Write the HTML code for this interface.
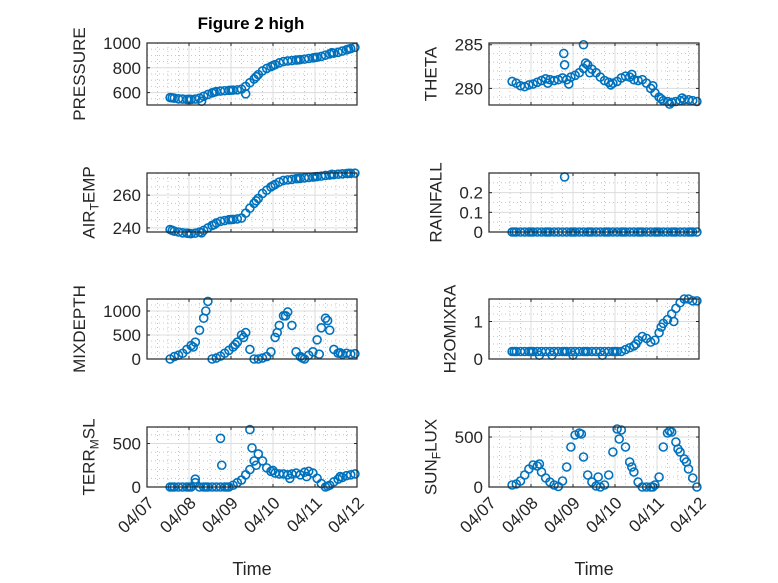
<!DOCTYPE html>
<html><head><meta charset="utf-8"><style>
html,body{margin:0;padding:0;background:#fff;}
svg{display:block;font-family:"Liberation Sans",sans-serif;}
</style></head><body>
<svg id="fig" width="778" height="583" viewBox="0 0 778 583" xmlns="http://www.w3.org/2000/svg">
<rect width="778" height="583" fill="#fff"/>
<text x="251" y="29" text-anchor="middle" font-size="17" font-weight="bold" fill="#000">Figure 2 high</text>
</svg>
<script>
const times=[0.55,0.65,0.75,0.85,0.95,1.05,1.15,1.25,1.35,1.45,1.55,1.65,1.75,1.85,1.95,2.05,2.15,2.25,2.35,2.45,2.55,2.65,2.75,2.85,2.95,3.05,3.15,3.25,3.35,3.45,3.55,3.65,3.75,3.85,3.95,4.05,4.15,4.25,4.35,4.45,4.55,4.65,4.75,4.85,4.95];
const dateTicks=["04/07","04/08","04/09","04/10","04/11","04/12"];
const pressure=[560,555,550,548,545,545,548,555,570,585,598,608,612,615,618,620,622,628,650,680,710,745,775,795,810,825,840,850,855,858,862,866,870,875,880,885,892,902,912,918,925,935,945,955,965];
const pressureExtraT=[1.3,2.35,0.6,1.0,1.6,2.0,2.6,3.0,3.6,4.0,4.4,4.8];
const pressureExtraV=[530,590,558,546,603,619,728,818,864,883,922,950];
const airTemp=[239,238,237.5,237,236.8,236.5,236.8,237.5,238.5,240,241.5,243,244,244.5,245,245.2,245.5,246,249,252,255,258,261,263,265,266.5,268,269,269.3,269.6,270,270.2,270.5,270.8,271,271.3,271.6,272,272.2,272.5,272.8,273,273.2,273.3,273.4];
const airTempExtraT=[1.3,0.6,1.0,1.6,2.0,2.6,3.0,3.6,4.0,4.4,4.8];
const airTempExtraV=[237,238.5,236.6,242,245.1,256.5,265.8,270.1,271.2,272.7,273.3];
const theta=[280.8,280.6,280.3,280.2,280.4,280.5,280.7,280.9,281.1,281.0,280.9,281.0,281.2,281.0,281.3,281.5,281.8,282.3,282.7,282.2,281.8,281.3,280.9,280.7,280.6,280.8,281.2,281.4,281.3,281.0,280.9,281.0,280.6,280.0,279.5,279.0,278.6,278.5,278.4,278.5,278.6,278.7,278.7,278.6,278.5];
const thetaExtraT=[1.78,1.8,2.25,2.3,1.4,1.9,2.4,2.9,3.4,3.9,4.1,4.3,4.6];
const thetaExtraV=[284,282.7,285,282.9,280.6,280.5,281.8,280.4,281.6,280.3,278.8,278.2,278.9];
const rainfall=[0,0,0,0,0,0,0,0,0,0,0,0,0,0,0,0,0,0,0,0,0,0,0,0,0,0,0,0,0,0,0,0,0,0,0,0,0,0,0,0,0,0,0,0,0];
const rainfallExtraT=[1.8,0.6,1.0,1.4,2.0,2.4,2.8,3.2,3.6,4.0,4.4,4.8];
const rainfallExtraV=[0.28,0,0,0,0,0,0,0,0,0,0,0];
const mixDepth=[0,50,80,120,200,280,350,600,850,1200,0,20,60,120,180,250,350,500,550,200,0,0,20,50,150,450,700,900,980,700,150,50,0,80,150,400,650,850,600,200,120,100,120,100,110];
const mixDepthExtraT=[1.4,2.3,3.3,4.3,4.1,1.1,2.1,3.1,3.7,4.6];
const mixDepthExtraV=[1000,450,900,800,100,250,300,550,20,130];
const h2o=[0.2,0.2,0.2,0.2,0.2,0.2,0.2,0.2,0.2,0.2,0.2,0.2,0.2,0.2,0.2,0.2,0.2,0.2,0.2,0.2,0.2,0.2,0.2,0.2,0.2,0.2,0.2,0.25,0.3,0.35,0.5,0.6,0.55,0.45,0.5,0.7,0.95,1.05,1.2,1.35,1.5,1.6,1.6,1.55,1.55];
const h2oExtraT=[1.2,1.5,2.0,2.7,0.6,1.0,1.8,2.3,3.0,3.5,4.1,4.4];
const h2oExtraV=[0.1,0.1,0.1,0.1,0.2,0.2,0.2,0.2,0.2,0.4,0.85,1.0];
const terrMsl=[0,0,0,0,0,0,50,0,0,0,0,0,0,0,0,20,50,80,140,200,300,380,300,220,180,160,150,150,140,150,160,140,170,180,160,100,40,0,20,60,90,110,130,140,150];
const terrMslExtraT=[1.15,1.75,1.78,2.45,2.5,0.6,1.0,1.4,1.9,2.6,3.0,3.4,3.8,4.3,4.6];
const terrMslExtraV=[90,560,250,660,450,0,0,0,0,250,190,100,120,10,120];
const sunFlux=[20,30,60,120,180,220,210,150,90,50,20,5,60,200,400,520,540,300,120,50,10,0,20,120,350,580,570,400,250,150,50,0,0,0,20,100,400,540,550,450,350,280,180,90,0];
const sunFluxExtraT=[1.2,2.2,2.6,3.1,3.4,3.9,4.3,4.5,4.7];
const sunFluxExtraV=[230,530,100,480,200,0,560,380,250];

const NS="http://www.w3.org/2000/svg";
const svg=document.getElementById('fig');
function mk(tag,attrs,parent){const e=document.createElementNS(NS,tag);for(const k in attrs)e.setAttribute(k,attrs[k]);(parent||svg).appendChild(e);return e;}

const L0=147,L1=489,W=210;
const rows=[[43,105],[173,232],[299,359],[427,487]];
const panels=[
 {name:'pressure',col:0,row:0,vals:pressure,et:pressureExtraT,ev:pressureExtraV,ylim:[500,1000],ticks:[600,800,1000],minor:50,label:[['PRESSURE']]},
 {name:'theta',col:1,row:0,vals:theta,et:thetaExtraT,ev:thetaExtraV,ylim:[278.1,285.2],ticks:[280,285],minor:1,label:[['THETA']]},
 {name:'air-temp',col:0,row:1,vals:airTemp,et:airTempExtraT,ev:airTempExtraV,ylim:[237.5,273.5],ticks:[240,260],minor:5,label:[['AIR'],['T','sub'],['EMP']]},
 {name:'rainfall',col:1,row:1,vals:rainfall,et:rainfallExtraT,ev:rainfallExtraV,ylim:[0,0.3],ticks:[0,0.1,0.2],minor:0.05,label:[['RAINFALL']]},
 {name:'mixdepth',col:0,row:2,vals:mixDepth,et:mixDepthExtraT,ev:mixDepthExtraV,ylim:[0,1250],ticks:[0,500,1000],minor:125,label:[['MIXDEPTH']]},
 {name:'h2omixra',col:1,row:2,vals:h2o,et:h2oExtraT,ev:h2oExtraV,ylim:[0,1.6],ticks:[0,1],minor:0.2,label:[['H2OMIXRA']]},
 {name:'terr-msl',col:0,row:3,vals:terrMsl,et:terrMslExtraT,ev:terrMslExtraV,ylim:[0,690],ticks:[0,500],minor:100,label:[['TERR'],['M','sub'],['SL']]},
 {name:'sun-flux',col:1,row:3,vals:sunFlux,et:sunFluxExtraT,ev:sunFluxExtraV,ylim:[0,600],ticks:[0,500],minor:100,label:[['SUN'],['F','sub'],['LUX']]}
];

panels.forEach(p=>{
 const x0=p.col?L1:L0, x1=x0+W, yT=rows[p.row][0], yB=rows[p.row][1];
 const xs=t=>x0+t/5*W;
 const ys=v=>yB-(v-p.ylim[0])/(p.ylim[1]-p.ylim[0])*(yB-yT);
 const g=mk('g',{});
 
 
 for(let d=0.25;d<5;d+=0.25){if(Math.abs(d-Math.round(d))<1e-6)continue;mk('line',{x1:xs(d),x2:xs(d),y1:yT,y2:yB,stroke:'#b8b8b8','stroke-width':0.8,'stroke-dasharray':'1 3'},g);}
 const m0=Math.ceil(p.ylim[0]/p.minor)*p.minor;
 for(let v=m0;v<p.ylim[1]-1e-9;v+=p.minor){if(p.ticks.some(t=>Math.abs(t-v)<1e-6))continue;const y=ys(v);if(y<=yT+0.5||y>=yB-0.5)continue;mk('line',{x1:x0,x2:x1,y1:y,y2:y,stroke:'#b8b8b8','stroke-width':0.8,'stroke-dasharray':'1 3'},g);}
 for(let d=1;d<5;d++)mk('line',{x1:xs(d),x2:xs(d),y1:yT,y2:yB,stroke:'#dcdcdc','stroke-width':1},g);
 p.ticks.forEach(v=>{const y=ys(v);if(y>yT+1&&y<yB-1)mk('line',{x1:x0,x2:x1,y1:y,y2:y,stroke:'#dcdcdc','stroke-width':1},g);});
 const pts=mk('g',{fill:'none',stroke:'#0072BD','stroke-width':1.6},g);
 
 
 const allT=times.concat(p.et), allV=p.vals.concat(p.ev);
 allT.forEach((t,i)=>{const c=mk('circle',{cx:xs(t),cy:ys(allV[i]),r:4},pts);
  
  });
 mk('rect',{x:x0,y:yT,width:W,height:yB-yT,fill:'none',stroke:'#262626','stroke-width':1.2},g);
 for(let d=0;d<=5;d++){mk('line',{x1:xs(d),x2:xs(d),y1:yB,y2:yB-3,stroke:'#262626'},g);mk('line',{x1:xs(d),x2:xs(d),y1:yT,y2:yT+3,stroke:'#262626'},g);}
 let maxW=0;
 p.ticks.forEach(v=>{const y=ys(v);mk('line',{x1:x0,x2:x0+3,y1:y,y2:y,stroke:'#262626'},g);mk('line',{x1:x1,x2:x1-3,y1:y,y2:y,stroke:'#262626'},g);
  const tx=mk('text',{x:x0-6,y:y+6,'text-anchor':'end','font-size':17,fill:'#262626'},g);tx.textContent=String(v);
  
  
  maxW=Math.max(maxW,tx.getComputedTextLength());});
 const lx=x0-maxW-24, ly=(yT+yB)/2;
 const lab=mk('text',{x:lx,y:ly,'text-anchor':'middle','font-size':17,fill:'#262626',transform:`rotate(-90 ${lx} ${ly})`},g);
 
 
 p.label.forEach(s=>{const ts=mk('tspan',{},lab);ts.textContent=s[0];if(s[1]==='sub'){ts.setAttribute('baseline-shift','-35%');ts.setAttribute('font-size','12');}});
 if(p.row===3){
  dateTicks.forEach((s,d)=>{const tx0=xs(d)+8, ty0=yB+17;
   const tx=mk('text',{x:tx0,y:ty0,'text-anchor':'end','font-size':17,fill:'#262626',transform:`rotate(-45 ${tx0} ${ty0})`},g);
   tx.textContent=s;
   
   });
  const xl=mk('text',{x:x0+W/2,y:575,'text-anchor':'middle','font-size':18,fill:'#262626'},g);
  xl.textContent='Time';
  
  
 }
});
</script>
</body></html>
